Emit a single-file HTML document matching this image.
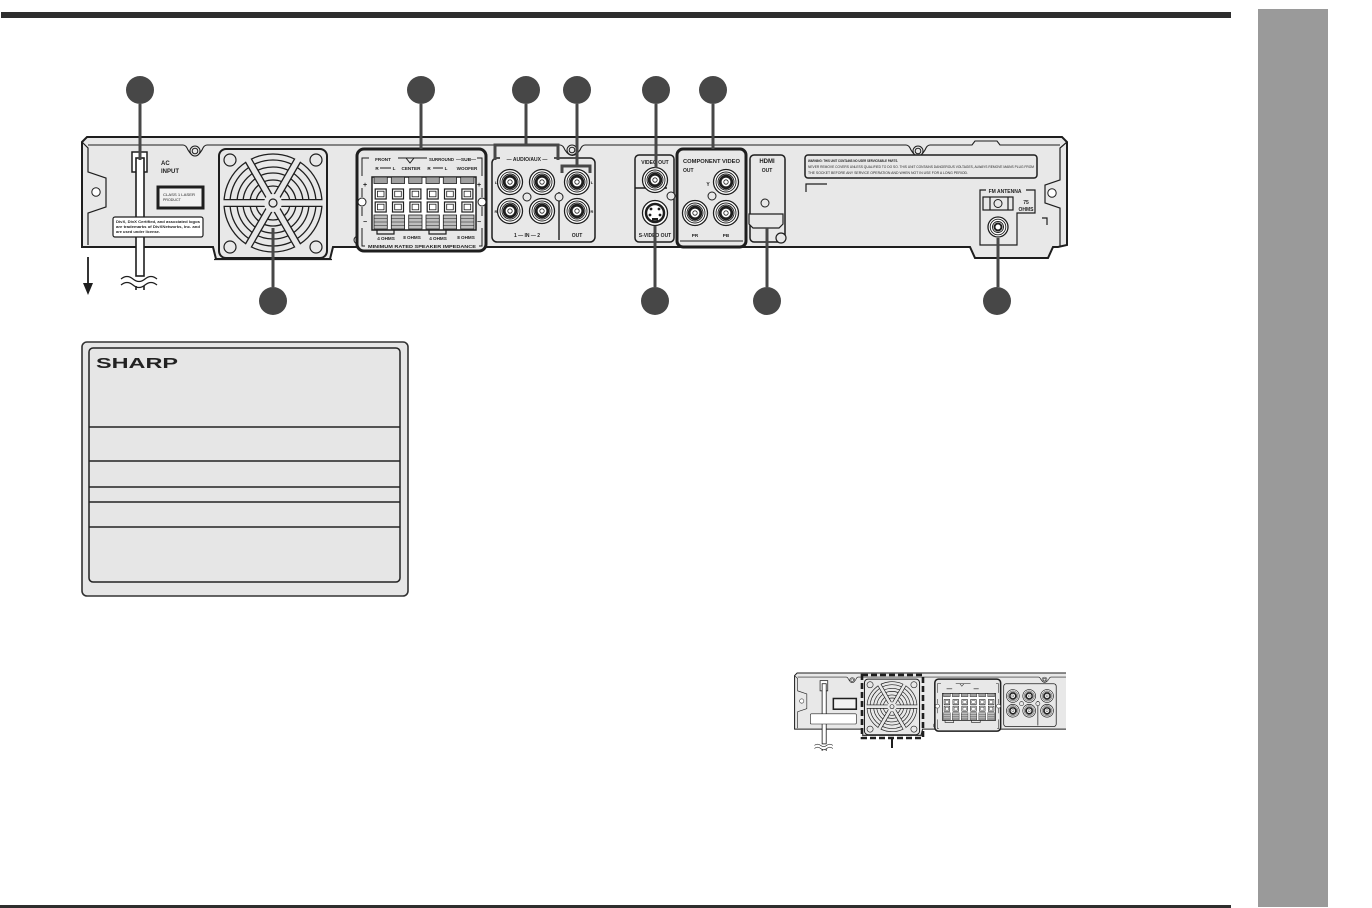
<!DOCTYPE html>
<html>
<head>
<meta charset="utf-8">
<style>
html,body{margin:0;padding:0;background:#fff;}
body{width:1372px;height:908px;overflow:hidden;position:relative;}
svg{position:absolute;left:0;top:0;}
text{font-family:"Liberation Sans",sans-serif;fill:#1e1e1e;stroke:none;}
.b{font-weight:bold;}
</style>
</head>
<body>
<svg width="1372" height="908" viewBox="0 0 1372 908" xmlns="http://www.w3.org/2000/svg">
<defs>
  <g id="jack">
    <circle r="12.5" fill="#fff" stroke="#1e1e1e" stroke-width="1.3"/>
    <circle r="10" fill="none" stroke="#1e1e1e" stroke-width="0.9"/>
    <circle r="8" fill="none" stroke="#1e1e1e" stroke-width="0.9"/>
    <circle r="5.8" fill="#fff" stroke="#1e1e1e" stroke-width="2.8"/>
    <circle r="2.2" fill="#fff" stroke="#1e1e1e" stroke-width="0.8"/>
  </g>
  <g id="col" stroke="#1e1e1e">
    <rect x="2" y="177" width="13.3" height="6.5" fill="#a0a0a0" stroke-width="0.8"/>
    <rect x="3.2" y="189" width="11" height="10" fill="#fff" stroke-width="1.2"/>
    <rect x="5.4" y="191.2" width="6.6" height="5.6" fill="#fff" stroke-width="0.8"/>
    <rect x="3.2" y="202" width="11" height="10" fill="#fff" stroke-width="1.2"/>
    <rect x="5.4" y="204.2" width="6.6" height="5.6" fill="#fff" stroke-width="0.8"/>
    <rect x="2" y="215" width="13.3" height="14" fill="#bdbdbd" stroke-width="0.8"/>
    <path d="M2,218.5H15.3M2,222H15.3M2,225.5H15.3" stroke-width="0.6" fill="none"/>
  </g>
  <clipPath id="miniclip"><rect x="780" y="660" width="286" height="100"/></clipPath>
</defs>

<!-- page rules and side tab -->
<rect x="1" y="12" width="1230" height="6" fill="#2e2e2e"/>
<rect x="0" y="905" width="1231" height="3" fill="#2e2e2e"/>
<rect x="1258" y="9" width="70" height="898" fill="#9a9a9a"/>

<!-- ===== device shapes ===== -->
<g id="devshapes" stroke="#1e1e1e" fill="none">
  <path d="M82,142 L87,137 L1062,137 L1067,142 L1067,245 L1058,247 L1053,247 L1048,258 L975,258 L970,247 L333,247 L330,259 L216,259 L213,247 L82,247 Z" fill="#e8e8e8" stroke-width="2"/>
  <path d="M214,259.5 H332" stroke-width="1.2"/>
  <path d="M88,145 L183,145 Q186,145 188,150 Q195,162 202,150 Q204,145 207,145 L560,145 Q563,145 565,150 Q572,161 580,150 Q582,145 585,145 L906,145 Q909,145 911,150 Q918,162 925,150 Q927,145 930,145 L972,145 L975,141 L997,141 L1000,145 L1060,145" stroke-width="1.1"/>
  <path d="M82,142 L88,148 L88,172 L106,178 L106,207 L88,213 L88,245" stroke-width="1.2"/>
  <circle cx="96" cy="192" r="4.2" fill="#fff" stroke-width="1"/>
  <path d="M1067,142 L1060,148 L1060,180 L1045,185 L1045,203 L1060,208 L1060,246" stroke-width="1.2"/>
  <circle cx="1052" cy="193" r="4.2" fill="#fff" stroke-width="1"/>
  <circle cx="195" cy="151" r="5" fill="#e8e8e8" stroke-width="1"/><circle cx="195" cy="151" r="2.8" stroke-width="1"/>
  <circle cx="572" cy="150" r="5" fill="#e8e8e8" stroke-width="1"/><circle cx="572" cy="150" r="2.8" stroke-width="1"/>
  <circle cx="918" cy="151" r="5" fill="#e8e8e8" stroke-width="1"/><circle cx="918" cy="151" r="2.8" stroke-width="1"/>
  <path d="M358,236 A4,4 0 0 0 358,244" stroke-width="1"/>

  <rect x="132" y="152" width="15" height="20" fill="#fff" stroke-width="1.5"/>
  <rect x="136" y="158" width="8" height="118" fill="#fff" stroke-width="1.6"/>
  <path d="M121,279 q6,-5 12,0 t12,0 t12,0 M121,285 q6,-5 12,0 t12,0 t12,0" stroke-width="1.2"/>
  <path d="M136,286 V290 M144,286 V290" stroke-width="1.6"/>

  <rect x="158" y="187" width="45" height="21" fill="#f2f2f2" stroke-width="3"/>
  <rect x="113" y="217" width="90" height="20" rx="2" fill="#fff" stroke-width="1.2"/>

  <rect x="219" y="149" width="108" height="109" rx="7" fill="#e8e8e8" stroke-width="2"/>
  <circle cx="230" cy="160" r="6" stroke-width="1.2"/>
  <circle cx="316" cy="160" r="6" stroke-width="1.2"/>
  <circle cx="230" cy="247" r="6" stroke-width="1.2"/>
  <circle cx="316" cy="247" r="6" stroke-width="1.2"/>
  <circle cx="273" cy="203" r="49" stroke-width="1.3"/>
  <circle cx="273" cy="203" r="43" stroke-width="1.3"/>
  <circle cx="273" cy="203" r="36" stroke-width="1.3"/>
  <circle cx="273" cy="203" r="30" stroke-width="1.3"/>
  <circle cx="273" cy="203" r="23" stroke-width="1.3"/>
  <circle cx="273" cy="203" r="17" stroke-width="1.3"/>
  <g stroke="#1e1e1e" stroke-width="8">
    <path d="M224,203 H322 M248.5,160.6 L297.5,245.4 M297.5,160.6 L248.5,245.4"/>
  </g>
  <g stroke="#e8e8e8" stroke-width="5.4">
    <path d="M223,203 H323 M248,159.7 L298,246.3 M298,159.7 L248,246.3"/>
  </g>
  <circle cx="273" cy="203" r="9" fill="#e8e8e8" stroke="none"/>
  <circle cx="273" cy="203" r="4" fill="#e8e8e8" stroke-width="1.2"/>

  <rect x="357" y="149" width="129" height="102" rx="7" fill="#e8e8e8" stroke-width="3"/>
  <path d="M362,176 V158 H369 M398,158 H427 M406,158 L410,163 L414,158 M477,158 H482 V176" stroke-width="1"/>
  <path d="M380,168 H391 M433,168 H443" stroke-width="1"/>
  <path d="M362,228 V246 H365 M482,228 V246 H479" stroke-width="1"/>
  <circle cx="362" cy="202" r="4" fill="#fff" stroke-width="1"/>
  <circle cx="482" cy="202" r="4" fill="#fff" stroke-width="1"/>
  <path d="M362,188 V197 M362,207 V216 M482,188 V197 M482,207 V216" stroke-width="1"/>
  <rect x="372" y="177" width="104" height="53" fill="#fff" stroke-width="1.5"/>
  <use href="#col" x="372"/>
  <use href="#col" x="389.3"/>
  <use href="#col" x="406.7"/>
  <use href="#col" x="424"/>
  <use href="#col" x="441.3"/>
  <use href="#col" x="458.7"/>
  <path d="M377,230 V234 H394 V230 M429,230 V234 H446 V230" stroke-width="1.2"/>

  <rect x="492" y="158" width="103" height="84" rx="5" fill="#e8e8e8" stroke-width="1.5"/>
  <path d="M559,192 V240" stroke-width="1.4"/>
  <circle cx="527" cy="197" r="4" fill="#e8e8e8" stroke-width="1"/>
  <circle cx="559" cy="197" r="4" fill="#e8e8e8" stroke-width="1"/>
  <use href="#jack" x="510" y="182"/>
  <use href="#jack" x="542" y="182"/>
  <use href="#jack" x="577" y="182"/>
  <use href="#jack" x="510" y="211"/>
  <use href="#jack" x="542" y="211"/>
  <use href="#jack" x="577" y="211"/>

  <rect x="635" y="155" width="39" height="87" rx="4" fill="#e8e8e8" stroke-width="1.5"/>
  <path d="M635,188 H667" stroke-width="1.6"/>
  <circle cx="671" cy="196" r="4" fill="#e8e8e8" stroke-width="1"/>
  <use href="#jack" x="655" y="180"/>
  <circle cx="655" cy="213" r="12.5" fill="#fff" stroke-width="1.3"/>
  <circle cx="655" cy="213" r="9" fill="#fff" stroke-width="2.5"/>
  <g fill="#1e1e1e" stroke="none">
    <circle cx="651" cy="209" r="1.4"/><circle cx="659" cy="209" r="1.4"/>
    <circle cx="650" cy="215" r="1.4"/><circle cx="660" cy="215" r="1.4"/>
    <rect x="652" y="218" width="6" height="2.5"/>
  </g>

  <rect x="677" y="149" width="69" height="98" rx="6" fill="#e8e8e8" stroke-width="3"/>
  <path d="M680,241 H743" stroke-width="1"/>
  <circle cx="712" cy="196" r="4" fill="#e8e8e8" stroke-width="1"/>
  <use href="#jack" x="726" y="182"/>
  <use href="#jack" x="695" y="213"/>
  <use href="#jack" x="726" y="213"/>

  <rect x="750" y="155" width="35" height="87" rx="4" fill="#e8e8e8" stroke-width="1.5"/>
  <circle cx="765" cy="203" r="4" fill="#e8e8e8" stroke-width="1"/>
  <path d="M749,214 H783 V224 L779,228 H753 L749,224 Z" fill="#e8e8e8" stroke-width="1.2"/>
  <circle cx="781" cy="238" r="5" fill="#e8e8e8" stroke-width="1.2"/>

  <rect x="805" y="155" width="232" height="23" rx="3" fill="#e8e8e8" stroke-width="1.5"/>
  <path d="M806,192 V184 H827" stroke-width="1.2"/>

  <path d="M986,190 H980 V245 H1017 V213 H1035 V190 H1026" stroke-width="1.2"/>
  <rect x="983" y="197" width="30" height="13" fill="#e8e8e8" stroke-width="1.2"/>
  <path d="M990,197 V210 M1008,197 V210" stroke-width="1.2"/>
  <circle cx="998" cy="203.5" r="4" fill="#e8e8e8" stroke-width="1"/>
  <circle cx="998" cy="227" r="10" fill="#fff" stroke-width="1.3"/>
  <circle cx="998" cy="227" r="7.8" stroke-width="0.9"/>
  <circle cx="998" cy="227" r="5.5" stroke-width="0.9"/>
  <circle cx="998" cy="227" r="3.5" fill="#fff" stroke-width="2"/>
  <path d="M1042,218 H1047 V225" stroke-width="1.2"/>
</g>

<rect x="500" y="154" width="54" height="8" fill="#e8e8e8"/>
<rect x="986" y="186" width="39" height="8" fill="#e8e8e8"/>

<g>
  <text x="161" y="165" font-size="6" class="b">AC</text>
  <text x="161" y="173" font-size="6" class="b">INPUT</text>
  <text x="163" y="196" font-size="3.6" textLength="32" lengthAdjust="spacingAndGlyphs">CLASS 1 LASER</text>
  <text x="163" y="201" font-size="3.6">PRODUCT</text>
  <text x="116" y="223" font-size="3.8" class="b" textLength="84" lengthAdjust="spacingAndGlyphs">DivX, DivX Certified, and associated logos</text>
  <text x="116" y="228" font-size="3.8" class="b" textLength="84" lengthAdjust="spacingAndGlyphs">are trademarks of DivXNetworks, Inc. and</text>
  <text x="116" y="233" font-size="3.8" class="b" textLength="44" lengthAdjust="spacingAndGlyphs">are used under license.</text>

  <text x="383" y="161" font-size="4.6" class="b" text-anchor="middle">FRONT</text>
  <text x="429" y="161" font-size="4.4" class="b" textLength="25" lengthAdjust="spacingAndGlyphs">SURROUND</text>
  <text x="456" y="161" font-size="4.4" class="b" textLength="20" lengthAdjust="spacingAndGlyphs">—SUB—</text>
  <text x="377" y="170" font-size="4.6" class="b" text-anchor="middle">R</text>
  <text x="394" y="170" font-size="4.6" class="b" text-anchor="middle">L</text>
  <text x="411" y="170" font-size="4.6" class="b" text-anchor="middle">CENTER</text>
  <text x="429" y="170" font-size="4.6" class="b" text-anchor="middle">R</text>
  <text x="446" y="170" font-size="4.6" class="b" text-anchor="middle">L</text>
  <text x="467" y="170" font-size="4.6" class="b" text-anchor="middle">WOOFER</text>
  <text x="365" y="187" font-size="7" class="b" text-anchor="middle">+</text>
  <text x="479" y="187" font-size="7" class="b" text-anchor="middle">+</text>
  <text x="365" y="224" font-size="7" class="b" text-anchor="middle">−</text>
  <text x="479" y="224" font-size="7" class="b" text-anchor="middle">−</text>
  <text x="386" y="240" font-size="4.6" class="b" text-anchor="middle">4 OHMS</text>
  <text x="412" y="239" font-size="4.6" class="b" text-anchor="middle">8 OHMS</text>
  <text x="438" y="240" font-size="4.6" class="b" text-anchor="middle">4 OHMS</text>
  <text x="466" y="239" font-size="4.6" class="b" text-anchor="middle">8 OHMS</text>
  <text x="422" y="248" font-size="4.4" class="b" text-anchor="middle" textLength="108" lengthAdjust="spacingAndGlyphs">MINIMUM RATED SPEAKER IMPEDANCE</text>

  <text x="527" y="161" font-size="5" class="b" text-anchor="middle">— AUDIO/AUX —</text>
  <text x="496" y="184" font-size="4" class="b" text-anchor="middle">L</text>
  <text x="496" y="213" font-size="4" class="b" text-anchor="middle">R</text>
  <text x="592" y="184" font-size="4" class="b" text-anchor="middle">L</text>
  <text x="592" y="213" font-size="4" class="b" text-anchor="middle">R</text>
  <text x="527" y="237" font-size="5" class="b" text-anchor="middle">1 — IN — 2</text>
  <text x="577" y="237" font-size="5" class="b" text-anchor="middle">OUT</text>

  <text x="655" y="164" font-size="5" class="b" text-anchor="middle">VIDEO OUT</text>
  <text x="655" y="237" font-size="5" class="b" text-anchor="middle">S-VIDEO OUT</text>

  <text x="683" y="163" font-size="5" class="b" textLength="57" lengthAdjust="spacingAndGlyphs">COMPONENT  VIDEO</text>
  <text x="683" y="172" font-size="5" class="b">OUT</text>
  <text x="708" y="186" font-size="5" class="b" text-anchor="middle">Y</text>
  <text x="695" y="237" font-size="4.6" class="b" text-anchor="middle">PR</text>
  <text x="726" y="237" font-size="4.6" class="b" text-anchor="middle">PB</text>

  <text x="767" y="163" font-size="6" class="b" text-anchor="middle">HDMI</text>
  <text x="767" y="172" font-size="5" class="b" text-anchor="middle">OUT</text>

  <text x="808" y="162" font-size="3.8" class="b" textLength="90" lengthAdjust="spacingAndGlyphs">WARNING: THIS UNIT CONTAINS NO USER SERVICEABLE PARTS.</text>
  <text x="808" y="168" font-size="3.8" textLength="226" lengthAdjust="spacingAndGlyphs">NEVER REMOVE COVERS UNLESS QUALIFIED TO DO SO. THIS UNIT CONTAINS DANGEROUS VOLTAGES, ALWAYS REMOVE MAINS PLUG FROM</text>
  <text x="808" y="174" font-size="3.8" textLength="160" lengthAdjust="spacingAndGlyphs">THE SOCKET BEFORE ANY SERVICE OPERATION AND WHEN NOT IN USE FOR A LONG PERIOD.</text>

  <text x="1005" y="193" font-size="5" class="b" text-anchor="middle">FM ANTENNA</text>
  <text x="1026" y="204" font-size="5" class="b" text-anchor="middle">75</text>
  <text x="1026" y="211" font-size="5" class="b" text-anchor="middle">OHMS</text>
</g>

<g stroke="#474747" stroke-width="3" fill="none">
  <path d="M140,104 V160"/>
  <path d="M273,228 V287"/>
  <path d="M421,104 V149"/>
  <path d="M526,104 V145 M495,160 V145 H558 V160"/>
  <path d="M577,104 V166 M562,173 V166 H590 V173"/>
  <path d="M656,104 V168"/>
  <path d="M713,104 V149"/>
  <path d="M655,226 V287"/>
  <path d="M767,228 V287"/>
  <path d="M998,238 V287"/>
</g>
<g fill="#474747">
  <circle cx="140" cy="90" r="14"/>
  <circle cx="421" cy="90" r="14"/>
  <circle cx="526" cy="90" r="14"/>
  <circle cx="577" cy="90" r="14"/>
  <circle cx="656" cy="90" r="14"/>
  <circle cx="713" cy="90" r="14"/>
  <circle cx="273" cy="301" r="14"/>
  <circle cx="655" cy="301" r="14"/>
  <circle cx="767" cy="301" r="14"/>
  <circle cx="997" cy="301" r="14"/>
</g>

<path d="M88,257 V285" stroke="#1e1e1e" stroke-width="1.8"/>
<path d="M83,283 L93,283 L88,295 Z" fill="#1e1e1e"/>

<rect x="82" y="342" width="326" height="254" rx="5" fill="#e6e6e6" stroke="#333" stroke-width="1.6"/>
<rect x="89" y="348" width="311" height="234" rx="4" fill="#e6e6e6" stroke="#222" stroke-width="1.5"/>
<g stroke="#222" stroke-width="1.5">
  <path d="M89,427 H400 M89,461 H400 M89,487 H400 M89,502 H400 M89,527 H400"/>
</g>
<text x="96" y="368" font-size="15" font-weight="900" textLength="82" lengthAdjust="spacingAndGlyphs" style="font-family:'Liberation Sans',sans-serif;fill:#222;">SHARP</text>

<g clip-path="url(#miniclip)">
  <use href="#devshapes" transform="translate(752.77,603.13) scale(0.51)"/>
</g>
<rect x="862" y="675" width="61" height="63" fill="none" stroke="#1e1e1e" stroke-width="2.6" stroke-dasharray="6 3"/>
<path d="M892,739 V748" stroke="#1e1e1e" stroke-width="2"/>
</svg>
</body>
</html>
